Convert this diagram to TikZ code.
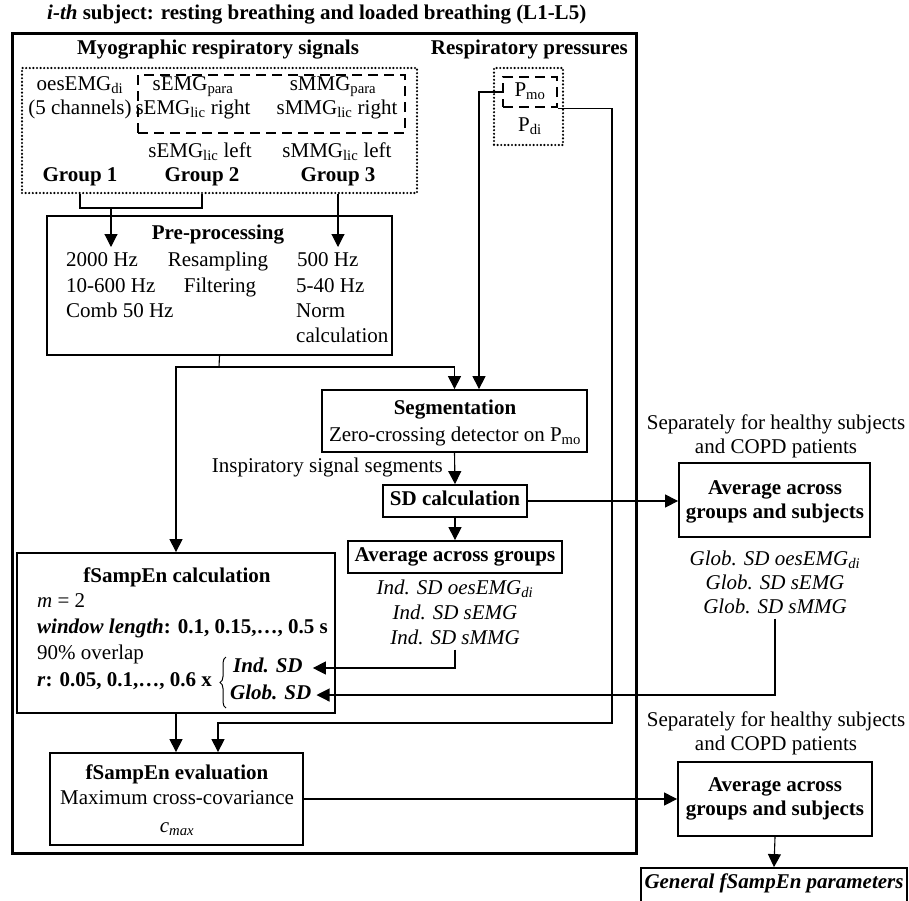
\documentclass[tikz,border=0pt]{standalone}
\usepackage{fontspec}
\setmainfont{Liberation Serif}
\usetikzlibrary{arrows.meta,decorations.pathreplacing}
\newcommand\myfs{\fontsize{21}{25}\selectfont}
\begin{document}
\begin{tikzpicture}[x=1pt,y=-1pt,
  lbl/.style={inner sep=0pt, text height=14pt, text depth=5pt, font=\myfs},
  bl/.style={lbl, font=\myfs\bfseries},
  il/.style={lbl, font=\myfs\itshape},
  box/.style={draw, line width=1.8pt, inner sep=0pt},
  outerbox/.style={draw, line width=3pt, inner sep=0pt},
  dotbox/.style={draw, line width=2.4pt, line cap=round, dash pattern=on 0pt off 3.6pt, inner sep=0pt},
  dashbox/.style={draw, line width=2.6pt, dash pattern=on 10pt off 6pt, inner sep=0pt},
  conn/.style={line width=1.1pt},
  arr/.style={conn, -{Triangle[length=13pt,width=13pt]}},
]
\useasboundingbox (0,0) rectangle (909,900);

% title and outer frame
\node[bl, anchor=west] (title) at (47,15) {\textit{i-th} subject: resting breathing and loaded breathing (L1-L5)};
\node[outerbox, minimum width=624pt, minimum height=820pt] (outer) at (324,443) {};
\node[bl] (myo) at (218,50) {Myographic respiratory signals};
\node[bl, anchor=east] (resp) at (628,50) {Respiratory pressures};

% myographic signals
\node[dotbox, minimum width=395pt, minimum height=125pt] (mdot) at (219.5,130.5) {};
\node[dashbox, minimum width=267pt, minimum height=58pt] (mdash) at (271.5,104) {};
\node[lbl] (oes) at (80,86) {oesEMG\textsubscript{di}};
\node[lbl] (ch5) at (80,110) {(5 channels)};
\node[lbl] (sep) at (193,86) {sEMG\textsubscript{para}};
\node[lbl] (smp) at (333,86) {sMMG\textsubscript{para}};
\node[lbl] (selr) at (193,110) {sEMG\textsubscript{lic} right};
\node[lbl] (smlr) at (337,110) {sMMG\textsubscript{lic} right};
\node[lbl] (sell) at (200,153) {sEMG\textsubscript{lic} left};
\node[lbl] (smll) at (337,153) {sMMG\textsubscript{lic} left};
\node[bl] (g1) at (80,177) {Group 1};
\node[bl] (g2) at (202,177) {Group 2};
\node[bl] (g3) at (338,177) {Group 3};

% pressures
\node[dotbox, minimum width=69pt, minimum height=77pt] (pdot) at (528.5,106.5) {};
\node[dashbox, minimum width=54pt, minimum height=30pt] (pmobox) at (530,92) {};
\node[lbl] (pmo) at (530,92) {P\textsubscript{mo}};
\node[lbl] (pdi) at (530,127) {P\textsubscript{di}};

% pre-processing
\node[box, minimum width=345pt, minimum height=139pt] (pre) at (219.5,285.5) {};
\node[bl] (pret) at (218,235) {Pre-processing};
\node[lbl, anchor=west] (p11) at (66,262) {2000 Hz};
\node[lbl, anchor=west] (p12) at (66,288) {10-600 Hz};
\node[lbl, anchor=west] (p13) at (66,313) {Comb 50 Hz};
\node[lbl] (p21) at (218,262) {Resampling};
\node[lbl] (p22) at (220,288) {Filtering};
\node[lbl, anchor=west] (p31) at (297,262) {500 Hz};
\node[lbl, anchor=west] (p32) at (296,288) {5-40 Hz};
\node[lbl, anchor=west] (p33) at (296,313) {Norm};
\node[lbl, anchor=west] (p34) at (296,338) {calculation};

% segmentation
\node[box, minimum width=265pt, minimum height=62pt] (seg) at (454.5,421) {};
\node[bl] (segt) at (455,410) {Segmentation};
\node[lbl] (segz) at (455,437) {Zero-crossing detector on P\textsubscript{mo}};
\node[lbl, anchor=east] (insp) at (443,468) {Inspiratory signal segments};

% SD calculation and averages
\node[box, minimum width=144pt, minimum height=32pt] (sd) at (455,501) {};
\node[bl] (sdt) at (455,501) {SD calculation};
\node[box, minimum width=214pt, minimum height=32pt] (avg) at (455,557) {};
\node[bl] (avgt) at (455,557) {Average across groups};
\node[il] (i1) at (455,590) {Ind. SD oesEMG\textsubscript{di}};
\node[il] (i2) at (455,615) {Ind. SD sEMG};
\node[il] (i3) at (455,640) {Ind. SD sMMG};

% right column, upper
\node[lbl] (s11) at (776,425) {Separately for healthy subjects};
\node[lbl] (s12) at (776,449) {and COPD patients};
\node[box, minimum width=191pt, minimum height=74pt] (ags1) at (774.5,500) {};
\node[bl] (a11) at (775,490) {Average across};
\node[bl] (a12t) at (775,514) {groups and subjects};
\node[il] (gs1) at (775,561) {Glob. SD oesEMG\textsubscript{di}};
\node[il] (gs2) at (775,585) {Glob. SD sEMG};
\node[il] (gs3) at (775,609) {Glob. SD sMMG};

% fSampEn calculation
\node[box, minimum width=318pt, minimum height=160pt] (calc) at (176,633) {};
\node[bl] (calct) at (177,578) {fSampEn calculation};
\node[lbl, anchor=west] (c1) at (37,603) {\textit{m} = 2};
\node[bl, anchor=west] (c2) at (37,629) {\textit{window length}: 0.1, 0.15,…, 0.5 s};
\node[lbl, anchor=west] (c3) at (37,655) {90\% overlap};
\node[bl, anchor=west] (c4) at (37,682) {\textit{r}: 0.05, 0.1,…, 0.6 x};
\draw[line width=1pt, decorate, decoration={brace, amplitude=6pt}] (226,708) -- (226,657);
\node[bl, anchor=west] (indsd) at (233,668) {\textit{Ind. SD}};
\node[bl, anchor=west] (globsd) at (230,695) {\textit{Glob. SD}};

% fSampEn evaluation
\node[box, minimum width=253pt, minimum height=92pt] (eval) at (176.5,799) {};
\node[bl] (evt) at (177,775) {fSampEn evaluation};
\node[lbl] (ev2) at (177,800) {Maximum cross-covariance};
\node[lbl] (ev3) at (177,828) {\textit{c}\textsubscript{\textit{max}}};

% right column, lower
\node[lbl] (s21) at (776,722) {Separately for healthy subjects};
\node[lbl] (s22) at (776,746) {and COPD patients};
\node[box, minimum width=194pt, minimum height=74pt] (ags2) at (775,799) {};
\node[bl] (a21) at (775,787) {Average across};
\node[bl] (a22) at (775,811) {groups and subjects};
\node[box, minimum width=266pt, minimum height=36pt] (gen) at (774,886) {};
\node[bl] (gent) at (774,884) {\textit{General fSampEn parameters}};

% connectors: groups to pre-processing
\coordinate (j1) at (80,208);
\coordinate (j2) at (202,208);
\coordinate (jm) at (111,208);
\coordinate (a12) at (111,247);
\draw[conn] (g1 |- mdot.south) -- (j1) -- (j2) -- (g2 |- mdot.south);
\draw[arr] (jm) -- (a12);
\draw[arr] (g3 |- mdot.south) -- (g3 |- a12);

% pre-processing to segmentation and fSampEn calculation
\coordinate (jp) at (219,367);
\draw[conn] (pre.south) -- (jp);
\draw[arr] (jp) -| (calc.north);
\draw[arr] (jp) -| (seg.north);

% P_mo to segmentation
\coordinate (pl) at (479,92);
\draw[arr] (pmobox.west) -- (pl) -- (pl |- seg.north);

% P_mo to fSampEn evaluation
\coordinate (pr2) at (612,723);
\coordinate (pr3) at (218,723);
\draw[arr] (pmobox.south east) -| (pr2) -- (pr3) -- (pr3 |- eval.north);

% segmentation chain
\draw[arr] (seg.south) -- (sd.north);
\draw[arr] (sd.south) -- (avg.north);
\draw[arr] (sd.east) -- (sd.east -| ags1.west);

% Ind. SD and Glob. SD feedback
\coordinate (ic) at (455,668);
\draw[arr] (i3.south) -- (ic) -- ([xshift=10pt]indsd.east);
\coordinate (gc) at (775,695);
\draw[arr] (gs3.south) -- (gc) -- ([xshift=5pt]globsd.east);

% calculation to evaluation
\draw[arr] (calc.south) -- (calc.south |- eval.north);
\draw[arr] (eval.east) -- (eval.east -| ags2.west);
\draw[arr] (ags2.south) -- (gen.north);
\end{tikzpicture}
\end{document}
